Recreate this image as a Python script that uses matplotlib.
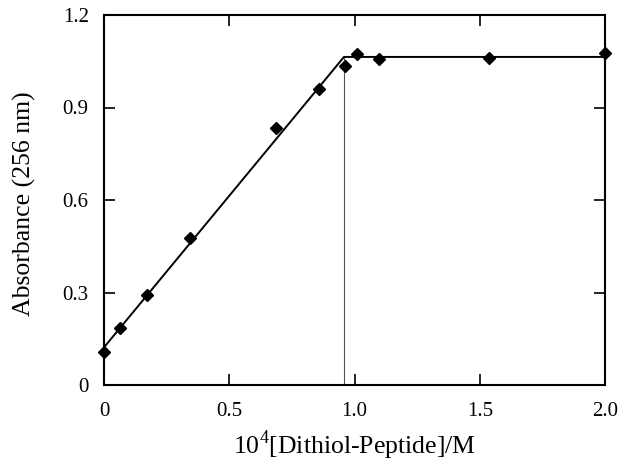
import numpy as np
import matplotlib.pyplot as plt

plt.rcParams['font.family'] = ['Liberation Serif', 'DejaVu Serif']
plt.rcParams['mathtext.fontset'] = 'custom'
plt.rcParams['mathtext.rm'] = 'Liberation Serif'

# measured points
conc = [0.0, 0.065, 0.172, 0.343, 0.687, 0.858, 0.961, 1.011, 1.099, 1.538, 2.0]
absorb = [0.107, 0.185, 0.292, 0.477, 0.834, 0.960, 1.034, 1.074, 1.056, 1.061, 1.078]

# fitted lines (rising part + plateau)
fit_x = [0.0, 0.958, 2.0]
fit_y = [0.122, 1.064, 1.064]
break_x = 0.958
break_y = 1.064

fig = plt.figure(figsize=(6.21, 4.62), dpi=100)
ax = fig.add_axes([104/621, 1-385/462, 501/621, 370/462])

ax.plot(fit_x, fit_y, color='black', lw=1.4, zorder=2)
ax.plot([break_x, break_x], [0, break_y], color='#555555', lw=0.8, zorder=1)
ax.plot(conc, absorb, 'D', color='black', ms=6.5, clip_on=False, zorder=3)

ax.set_xlim(0, 2.0)
ax.set_ylim(0, 1.2)
ax.set_xticks([0, 0.5, 1.0, 1.5, 2.0])
ax.set_xticklabels(['0', '0.5', '1.0', '1.5', '2.0'])
ax.set_yticks([0, 0.3, 0.6, 0.9, 1.2])
ax.set_yticklabels(['0', '0.3', '0.6', '0.9', '1.2'])
ax.tick_params(direction='in', top=True, right=True, length=8, width=1.2,
               labelsize=15)
ax.tick_params(axis='x', pad=12)
ax.tick_params(axis='y', pad=11)
for s in ax.spines.values():
    s.set_linewidth(1.5)

ax.set_xlabel(r'10$^{\mathrm{4}}$[Dithiol-Peptide]/M', fontsize=18.5, va='center')
ax.xaxis.set_label_coords(0.5, -0.162)
ax.set_ylabel('Absorbance (256 nm)', fontsize=18.5, va='center')
ax.yaxis.set_label_coords(-0.158, 0.49)

fig.savefig('out.png', dpi=100)
